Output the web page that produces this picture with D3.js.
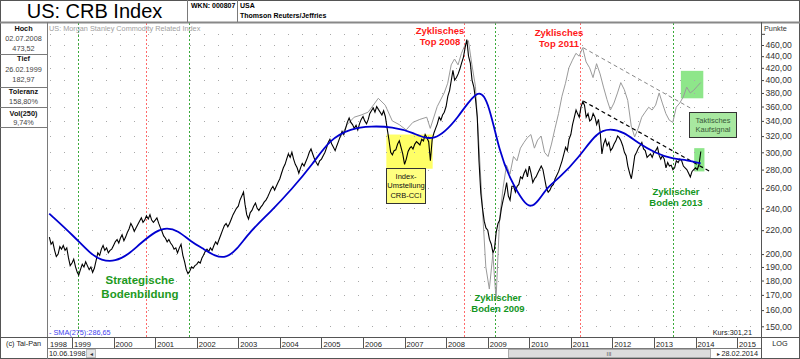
<!DOCTYPE html>
<html><head><meta charset="utf-8">
<script src="https://cdn.jsdelivr.net/npm/d3@7"></script>
<style>body{margin:0;background:#fff} svg{display:block;font-family:"Liberation Sans",Arial,sans-serif}</style>
</head><body><svg id="c" width="800" height="359"></svg>
<script>
// ---------- DATA ----------
// CRB index, half-monthly closes (1st and 16th), starting 16.06.1998
const crbValues = [
214,208,210,203,198,200,206,204,207,203,205,197,191,                                   // 1998 (Jun16..)
193,196,190,186,184,188,192,190,194,191,188,190,186,189,195,201,199,204,207,203,205,201,203,204, // 1999
207,210,212,209,213,216,211,214,218,221,226,223,219,222,225,228,231,227,229,233,230,234,229,227, // 2000
229,231,226,222,219,215,213,210,212,209,207,204,205,201,205,208,199,194,188,185,187,190,189,191, // 2001
192,194,193,197,199,202,204,202,205,203,207,210,208,212,216,220,224,226,223,226,230,234,237,240, // 2002
242,248,252,256,244,234,230,236,238,242,245,240,238,241,243,246,248,251,255,259,262,258,262,266, // 2003
270,276,282,286,292,298,294,300,292,286,282,276,282,287,284,289,294,300,304,298,292,288,285,290, // 2004
292,296,300,306,312,316,310,306,302,308,314,320,326,322,330,338,344,338,335,330,334,328,336,342, // 2005
346,340,336,342,350,354,358,352,360,356,352,348,354,346,330,316,300,297,302,303,310,314,306,298, // 2006
286,292,301,305,307,304,310,313,311,309,316,314,322,318,313,290,316,324,330,336,345,341,348,352, // 2007
360,375,384,400,416,400,404,410,418,428,438,455,470,440,428,400,389,370,345,290,255,240,228,222, // 2008
220,212,208,201,204,218,226,229,240,248,256,266,252,248,262,262,256,262,264,272,270,276,280,272, // 2009
284,276,266,270,272,276,280,284,280,270,260,256,258,262,264,270,274,278,284,290,298,306,302,316, // 2010
322,335,345,355,350,345,360,367,362,345,350,340,342,350,345,335,342,325,298,310,316,308,312,302, // 2011
305,310,314,320,318,314,308,300,296,284,276,270,282,296,300,305,308,312,304,302,294,296,298,294, // 2012
300,302,306,296,292,296,292,282,288,284,285,280,282,290,288,292,290,284,282,280,276,272,278,280, // 2013
282,280,286,301                                                                          // 2014
];

// second (grey) index line, monthly
const cciDates = ["2005-06","2005-08","2005-10","2005-12","2006-02","2006-04","2006-05","2006-07","2006-09","2006-11","2007-01","2007-03","2007-05","2007-07","2007-08","2007-10","2007-12",
"2008-01","2008-02","2008-03","2008-04","2008-05","2008-06","2008-07","2008-08","2008-09","2008-10","2008-11","2008-12",
"2009-01","2009-02","2009-03","2009-04","2009-05","2009-06","2009-07","2009-08","2009-09","2009-10","2009-11","2009-12",
"2010-01","2010-02","2010-03","2010-04","2010-05","2010-06","2010-07","2010-08","2010-09","2010-10","2010-11","2010-12",
"2011-01","2011-02","2011-03","2011-04","2011-05","2011-06","2011-07","2011-08","2011-09","2011-10","2011-11","2011-12",
"2012-01","2012-02","2012-03","2012-04","2012-05","2012-06","2012-07","2012-08","2012-09","2012-10","2012-11","2012-12",
"2013-01","2013-02","2013-03","2013-04","2013-05","2013-06","2013-07","2013-08","2013-09","2013-10","2013-11","2013-12",
"2014-01","2014-02"];
const cciValues = [318,335,345,348,352,365,372,362,340,335,328,338,342,345,330,360,380,
395,425,435,425,445,460,468,425,390,310,240,190,
174,200,167,230,260,285,275,295,290,305,312,318,
322,305,315,320,300,295,310,330,350,375,395,420,
433,445,440,455,430,420,404,427,410,389,370,355,
365,380,396,385,369,333,319,330,345,352,359,355,
362,380,365,350,341,338,359,365,374,389,380,384,
390,396];

// SMA(275)
const smaDates = ["1998-06","1999-01","1999-06","1999-09","2000-01","2000-05","2000-08","2001-01","2001-04","2001-07","2001-11","2002-02","2002-06","2002-09","2002-12",
"2003-04","2003-10","2004-04","2004-10","2005-03","2005-09","2006-03","2006-09","2007-03","2007-09","2008-04","2008-10","2009-01","2009-04","2009-07","2009-11",
"2010-01","2010-03","2010-06","2010-09","2011-03","2011-08","2011-12","2012-04","2012-08","2013-01","2013-06","2013-10","2014-02"];
const smaValues = [235,215,200,195,194,200,208,220,222,220,210,205,198,197,203,
219,237,259,286,316,330,333,332,325,311,343,392,362,300,270,245,
241,246,262,270,294,325,330,325,311,299,292,291,287];

const tickValues = [150,160,170,180,190,200,220,240,260,280,300,320,340,360,380,400,420,440,460];
const gridValues = [150,160,170,180,190,200,220,240,260,280,300,320,340,360,380,400,420,440,460,480];
const yearLabels = ["1998","1999","2000","2001","2002","2003","2004","2005","2006","2007","2008","2009","2010","2011","2012","2013","2014","2015"];

const cycleLines = [
  {date:"1999-02-20", color:"green"},{date:"2000-10-10", color:"red"},{date:"2001-10-25", color:"green"},
  {date:"2008-06-10", color:"red"},{date:"2009-03-05", color:"green"},{date:"2011-03-20", color:"red"},{date:"2013-06-20", color:"green"}];
const trendGray = [["2011-04-20",455],["2013-11-15",358]];
const trendBlack = [["2011-04-20",368],["2014-05-20",277]];

// ---------- SETUP ----------
const svg = d3.select("#c");
const pm = d3.timeParse("%Y-%m-%d");
const pd = s => s.length === 7 ? pm(s + "-15") : pm(s);
const x = d3.scaleTime().domain([new Date(1998,5,4), new Date(2015,6,30)]).range([48,761]);
const y = d3.scaleLog().domain([150,460]).range([326.3,45]);
const L = 48, R = 761, T = 23, B = 337;
const lineGen = d3.line().x(d => x(d[0])).y(d => y(d[1]));
const fmt = v => v.toFixed(2).replace(".", ",");

svg.append("defs").append("clipPath").attr("id","clip").append("rect").attr("x",L).attr("y",T).attr("width",R-L).attr("height",B-T);
const plot = svg.append("g").attr("clip-path","url(#clip)");

// highlight boxes
plot.append("rect").attr("x",x(pd("2006-07-25"))).attr("y",y(322)).attr("width",x(pd("2007-09-05"))-x(pd("2006-07-25"))).attr("height",y(281)-y(322)).attr("fill","#ffff66");
plot.append("rect").attr("x",x(pd("2013-08-25"))).attr("y",y(415)).attr("width",x(pd("2014-03-10"))-x(pd("2013-08-25"))).attr("height",y(372)-y(415)).attr("fill","#8ee68a");
plot.append("rect").attr("x",x(pd("2013-12-20"))).attr("y",y(305)).attr("width",x(pd("2014-03-20"))-x(pd("2013-12-20"))).attr("height",y(278)-y(305)).attr("fill","#8ee68a");

// grid
plot.selectAll(".g").data(gridValues).enter().append("line")
  .attr("x1",L+2).attr("x2",R).attr("y1",d=>Math.round(y(d))+0.5).attr("y2",d=>Math.round(y(d))+0.5)
  .attr("stroke","#a8a8a8").attr("stroke-width",1).attr("stroke-dasharray","1,13");

// cycle lines
plot.selectAll(".cy").data(cycleLines).enter().append("line")
  .attr("x1",d=>Math.round(x(pd(d.date)))+0.5).attr("x2",d=>Math.round(x(pd(d.date)))+0.5).attr("y1",T).attr("y2",B)
  .attr("stroke",d=>d.color==="red"?"#ff6b6b":"#3aaa3a").attr("stroke-width",1).attr("stroke-dasharray","2,2");

// series
const cci = cciDates.map((d,i)=>[pd(d),cciValues[i]]);
const crb = crbValues.map((v,i)=>[d3.timeMonth.offset(new Date(1998,5,i%2===0?16:1), Math.floor((i+1)/2)), v]);
const sma = smaDates.map((d,i)=>[pd(d),smaValues[i]]);
plot.append("path").datum(cci).attr("d",lineGen).attr("fill","none").attr("stroke","#9a9a9a").attr("stroke-width",1);
plot.append("path").datum(crb).attr("d",lineGen).attr("fill","none").attr("stroke","#000").attr("stroke-width",1.1);
plot.append("path").datum(trendGray.map(d=>[pd(d[0]),d[1]])).attr("d",lineGen).attr("fill","none").attr("stroke","#888").attr("stroke-width",1).attr("stroke-dasharray","4,3");
plot.append("path").datum(trendBlack.map(d=>[pd(d[0]),d[1]])).attr("d",lineGen).attr("fill","none").attr("stroke","#000").attr("stroke-width",1.2).attr("stroke-dasharray","4,3");
plot.append("path").datum(sma).attr("d",d3.line().x(d=>x(d[0])).y(d=>y(d[1])).curve(d3.curveBasis)).attr("fill","none").attr("stroke","#0000d0").attr("stroke-width",1.8);

// annotation boxes
function box(x0,y0,w,h,fill,lines,color,fs){
  svg.append("rect").attr("x",x0+0.5).attr("y",y0+0.5).attr("width",w).attr("height",h).attr("fill",fill).attr("stroke","#333");
  lines.forEach((t,i)=>svg.append("text").attr("x",x0+w/2+0.5).attr("y",y0+h/2+(i-(lines.length-1)/2)*fs*1.25+fs*0.36).attr("text-anchor","middle").attr("font-size",fs).attr("fill",color).text(t));
}
box(386,168,39,35,"#ffff80",["Index-","Umstellung","CRB-CCI"],"#111",7.5);
box(689,112,47,25,"#a8e8a0",["Taktisches","Kaufsignal"],"#3a5a3a",7.5);

function label(cx,y0,lines,color,fs){
  lines.forEach((t,i)=>svg.append("text").attr("x",cx).attr("y",y0+i*fs*1.2).attr("text-anchor","middle").attr("font-size",fs).attr("font-weight","bold").attr("fill",color).text(t));
}
label(440,34,["Zyklisches","Top 2008"],"#ff1a1a",9.5);
label(559,36,["Zyklisches","Top 2011"],"#ff1a1a",9.5);
label(498,301,["Zyklischer","Boden 2009"],"#14961e",9.5);
label(676,195,["Zyklischer","Boden 2013"],"#14961e",9.5);
label(140,284,["Strategische","Bodenbildung"],"#1e9a1e",11.5);

// texts in plot
svg.append("text").attr("x",49).attr("y",30.5).attr("font-size",7.3).attr("fill","#a0a0a0").text("US: Morgan Stanley Commodity Related Index");
svg.append("text").attr("x",49).attr("y",335).attr("font-size",7.3).attr("fill","#4444ee").text("- SMA(275):286,65");
svg.append("text").attr("x",752).attr("y",335).attr("text-anchor","end").attr("font-size",7.3).attr("fill","#222").text("Kurs:301,21");

// right axis
const ax = svg.append("g").attr("transform",`translate(${R},0)`).call(d3.axisRight(y).tickValues(tickValues).tickSize(3).tickPadding(1.5).tickFormat(fmt));
ax.select(".domain").remove();
ax.selectAll("text").attr("font-size",8.6).attr("fill","#333").attr("font-family","Liberation Sans, Arial, sans-serif");
ax.selectAll("line").attr("stroke","#444");
svg.append("line").attr("x1",R+1).attr("x2",R+4).attr("y1",y(480)).attr("y2",y(480)).attr("stroke","#444");
svg.append("text").attr("x",764).attr("y",31).attr("font-size",7.3).attr("fill","#333").text("Punkte");

// frame
const fr = svg.append("g").attr("stroke","#7a7a7a").attr("fill","none");
fr.append("rect").attr("x",0.5).attr("y",0.5).attr("width",799).attr("height",358).attr("stroke","#555");
fr.append("line").attr("x1",0).attr("x2",800).attr("y1",22.5).attr("y2",22.5).attr("stroke-width",2).attr("stroke","#888");
fr.append("line").attr("x1",187.5).attr("x2",187.5).attr("y1",0).attr("y2",22);
fr.append("line").attr("x1",237.5).attr("x2",237.5).attr("y1",0).attr("y2",22);
fr.append("line").attr("x1",47.5).attr("x2",47.5).attr("y1",22).attr("y2",359);
fr.append("line").attr("x1",R+0.5).attr("x2",R+0.5).attr("y1",22).attr("y2",359).attr("stroke","#555");
fr.append("line").attr("x1",0).attr("x2",800).attr("y1",337.5).attr("y2",337.5).attr("stroke","#555");
fr.append("line").attr("x1",47).attr("x2",R).attr("y1",348.5).attr("y2",348.5);
[54.5,87.5,107.5,127.5].forEach(v=>fr.append("line").attr("x1",0).attr("x2",47).attr("y1",v).attr("y2",v));

// header text
svg.append("text").attr("x",94.5).attr("y",18.3).attr("text-anchor","middle").attr("font-size",20).attr("fill","#000").text("US: CRB Index");
svg.append("text").attr("x",191).attr("y",8).attr("font-size",7).attr("font-weight","bold").text("WKN: 000807");
svg.append("text").attr("x",240).attr("y",8).attr("font-size",7).attr("font-weight","bold").text("USA");
svg.append("text").attr("x",240).attr("y",18).attr("font-size",7).attr("font-weight","bold").text("Thomson Reuters/Jeffries");

// left panel
const lp = [["Hoch",30.5,true],["02.07.2008",41,false],["473,52",51,false],["Tief",61,true],["26.02.1999",72,false],["182,97",82,false],["Toleranz",94,true],["158,80%",104,false],["Vol(250)",115.5,true],["9,74%",124.5,false]];
lp.forEach(d=>svg.append("text").attr("x",23.5).attr("y",d[1]).attr("text-anchor","middle").attr("font-size",7.3).attr("font-weight",d[2]?"bold":"normal").attr("fill",d[2]?"#111":"#444").text(d[0]));
svg.append("text").attr("x",6).attr("y",346).attr("font-size",7.3).attr("fill","#222").text("(c) Tai-Pan");
svg.append("text").attr("x",780).attr("y",346).attr("text-anchor","middle").attr("font-size",7.3).attr("fill","#222").text("LOG");

// bottom year axis
yearLabels.forEach(t=>{
  const d = new Date(+t,0,1);
  let px = x(d);
  if (px < L) px = L;
  else svg.append("line").attr("x1",Math.round(px)+0.5).attr("x2",Math.round(px)+0.5).attr("y1",337).attr("y2",348).attr("stroke","#555");
  svg.append("text").attr("x",px+2).attr("y",346.5).attr("font-size",7.6).attr("fill","#222").text(t);
});

// scroll row
svg.append("text").attr("x",49).attr("y",356).attr("font-size",7.3).attr("fill","#222").text("10.06.1998");
svg.append("rect").attr("x",86.5).attr("y",349.5).attr("width",9).attr("height",8).attr("fill","#e4e4e4").attr("stroke","#bbb");
svg.append("text").attr("x",91).attr("y",356).attr("text-anchor","middle").attr("font-size",6).attr("fill","#333").text("◂");
svg.append("rect").attr("x",508.5).attr("y",349.5).attr("width",202).attr("height",8).attr("fill","#dcdcdc").attr("stroke","#aaa");
svg.append("text").attr("x",609).attr("y",356).attr("text-anchor","middle").attr("font-size",6).attr("fill","#555").text("III");
svg.append("text").attr("x",717).attr("y",356).attr("font-size",6).attr("fill","#333").text("▸");
svg.append("text").attr("x",758).attr("y",356).attr("text-anchor","end").attr("font-size",7.3).attr("fill","#222").text("28.02.2014");
</script></body></html>
